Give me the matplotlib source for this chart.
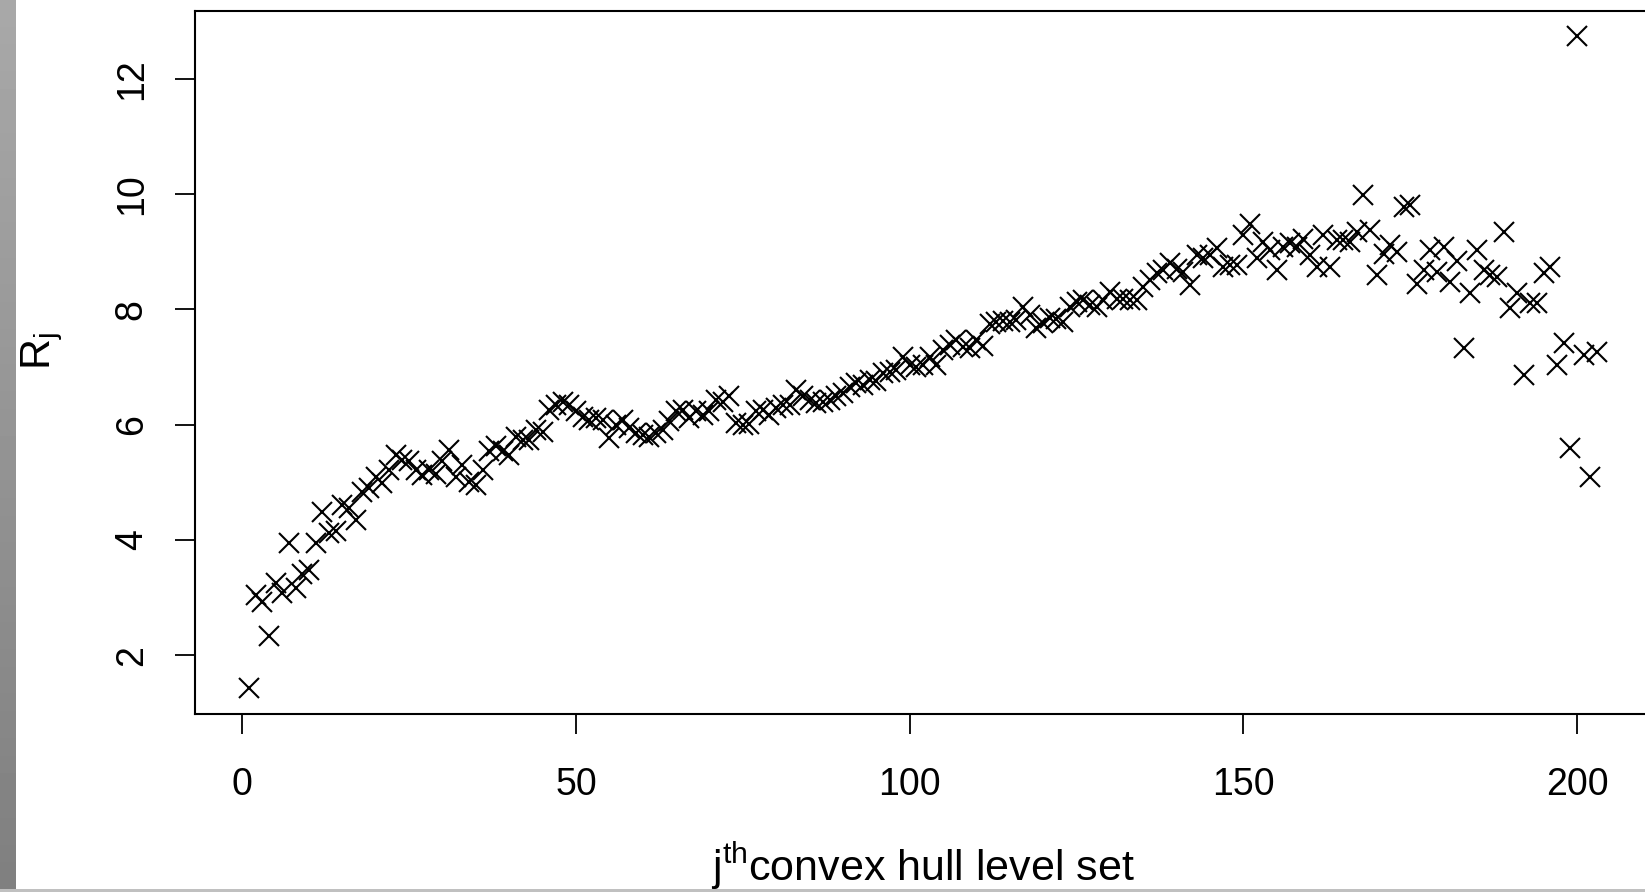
import numpy as np
import matplotlib.pyplot as plt

plt.rcParams['font.family'] = ['Liberation Sans', 'DejaVu Sans']
plt.rcParams['mathtext.fontset'] = 'custom'
plt.rcParams['mathtext.rm'] = 'Liberation Sans'
plt.rcParams['mathtext.it'] = 'Liberation Sans'

#datos
j = np.arange(1, 204)
R = [1.43, 3.05, 2.93, 2.33, 3.25, 3.08, 3.95, 3.17, 3.40, 3.48,
     3.95, 4.49, 4.12, 4.15, 4.61, 4.55, 4.35, 4.84, 4.90, 5.10,
     4.99, 5.22, 5.48, 5.39, 5.37, 5.22, 5.13, 5.22, 5.15, 5.37,
     5.56, 5.10, 5.30, 5.01, 4.96, 5.22, 5.55, 5.63, 5.55, 5.48,
     5.79, 5.74, 5.74, 5.91, 5.88, 6.26, 6.34, 6.40, 6.34, 6.23,
     6.14, 6.08, 6.11, 6.08, 5.77, 5.99, 6.08, 5.94, 5.85, 5.82,
     5.79, 5.85, 5.91, 6.06, 6.23, 6.26, 6.11, 6.23, 6.17, 6.23,
     6.43, 6.40, 6.49, 6.03, 5.99, 6.02, 6.23, 6.26, 6.17, 6.29,
     6.34, 6.34, 6.60, 6.49, 6.43, 6.37, 6.40, 6.43, 6.49, 6.55,
     6.66, 6.72, 6.69, 6.78, 6.75, 6.89, 6.92, 6.95, 7.18, 7.04,
     7.01, 7.04, 7.18, 7.04, 7.30, 7.38, 7.47, 7.35, 7.33, 7.47,
     7.36, 7.75, 7.78, 7.80, 7.79, 7.82, 8.05, 7.90, 7.67, 7.76,
     7.85, 7.83, 7.79, 8.05, 8.13, 8.16, 8.08, 8.05, 8.16, 8.31,
     8.19, 8.19, 8.16, 8.16, 8.39, 8.51, 8.63, 8.68, 8.80, 8.71,
     8.65, 8.42, 8.94, 8.89, 8.94, 9.06, 8.74, 8.77, 8.77, 9.30,
     9.48, 8.90, 9.17, 9.03, 8.68, 9.09, 9.15, 9.09, 9.23, 8.94,
     8.74, 9.29, 8.74, 9.20, 9.20, 9.17, 9.35, 9.98, 9.38, 8.60,
     8.97, 9.12, 9.00, 9.78, 9.81, 8.45, 8.68, 9.03, 8.65, 9.08,
     8.48, 8.85, 7.33, 8.28, 9.03, 8.68, 8.60, 8.57, 9.35, 8.03,
     8.28, 6.86, 8.11, 8.11, 8.63, 8.74, 7.04, 7.41, 5.59, 12.74,
     7.21, 5.10, 7.27]
xticks = [0, 50, 100, 150, 200]
yticks = [2, 4, 6, 8, 10, 12]

fig = plt.figure(figsize=(16.45, 8.92), dpi=100)

#franja gris a la izquierda y linea abajo
franja = fig.add_axes([0, 3/892, 16/1645, 889/892])
franja.imshow(np.linspace(0.66, 0.5, 100).reshape(-1, 1), cmap='gray', vmin=0, vmax=1,
              aspect='auto')
franja.axis('off')
linea = fig.add_axes([0, 0, 1, 3/892])
linea.set_facecolor('#c0c0c0')
linea.set_xticks([])
linea.set_yticks([])
for s in linea.spines.values():
    s.set_visible(False)

#grafica
ax = fig.add_axes([195/1645, 1 - 714/892, 1456/1645, 703.5/892])
ax.plot(j, R, 'x', color='black', markersize=14, markeredgewidth=1.5)
ax.set_xlim(-7.08, 211.08)
ax.set_ylim(0.978, 13.19)
ax.set_xticks(xticks)
ax.set_yticks(yticks)
ax.tick_params(direction='out', length=14.5, width=1.3, labelsize=27, pad=18)
ax.tick_params(axis='x', pad=24)
for lab in ax.get_yticklabels():
    lab.set_rotation(90)
    lab.set_va('center')
for s in ax.spines.values():
    s.set_linewidth(1.5)

fig.text(923/1645, 11/892, r'$\mathrm{j}^{\mathrm{th}}\mathrm{convex\ hull\ level\ set}$',
         ha='center', va='baseline', fontsize=31)
fig.text(42/1645, 1 - 351/892, r'$\mathrm{R}_{\mathrm{j}}$', rotation=90,
         ha='center', va='center', fontsize=31)

plt.savefig('out.png', dpi=100)
